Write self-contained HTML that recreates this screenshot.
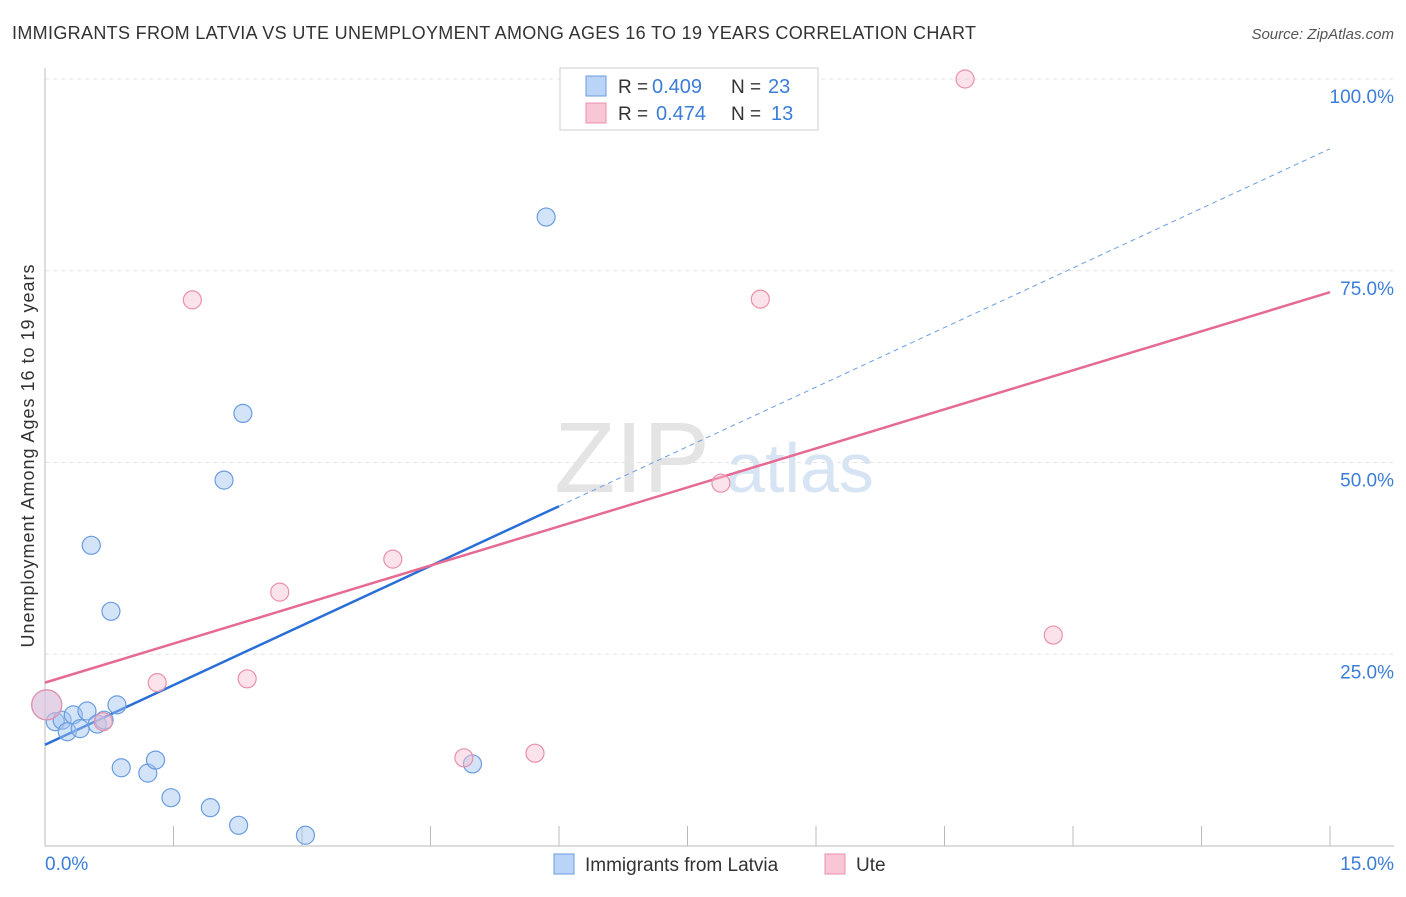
<!DOCTYPE html>
<html><head><meta charset="utf-8"><style>
body{margin:0;background:#fff;font-family:"Liberation Sans",sans-serif}
svg text{font-family:"Liberation Sans",sans-serif}
</style></head><body>
<svg width="1406" height="892">
<text x="12" y="39" font-size="18" fill="#333" textLength="964" lengthAdjust="spacing">IMMIGRANTS FROM LATVIA VS UTE UNEMPLOYMENT AMONG AGES 16 TO 19 YEARS CORRELATION CHART</text>
<text x="1394" y="39" font-size="15" fill="#555" font-style="italic" text-anchor="end">Source: ZipAtlas.com</text>
<text x="632" y="492" font-size="100" fill="#e4e4e4" text-anchor="middle" font-family="Liberation Serif">ZIP</text>
<text x="800" y="492" font-size="70" fill="#d7e4f3" text-anchor="middle">atlas</text>
<g id="grid"></g>
<line x1="45" y1="68" x2="45" y2="846" stroke="#bbb"/>
<line x1="45" y1="846" x2="1394" y2="846" stroke="#bbb"/>
<text x="45" y="870" font-size="19" fill="#3b7dd8">0.0%</text>
<text x="1394" y="870" font-size="19" fill="#3b7dd8" text-anchor="end">15.0%</text>
<text transform="translate(34,456) rotate(-90)" font-size="18" fill="#333" text-anchor="middle" textLength="383" lengthAdjust="spacing">Unemployment Among Ages 16 to 19 years</text>
<g id="lines"></g>
<g id="pts"></g>
<g>
<rect x="560" y="68" width="258" height="62" fill="#fff" stroke="#ccc"/>
<rect x="586" y="76" width="20" height="20" fill="#b9d4f6" stroke="#6a9de0"/>
<rect x="586" y="103" width="20" height="20" fill="#f9c6d5" stroke="#e890aa"/>
<text x="618" y="93" font-size="19" fill="#333">R =</text>
<text x="652" y="93" font-size="20" fill="#3b7dd8">0.409</text>
<text x="731" y="93" font-size="19" fill="#333">N =</text>
<text x="768" y="93" font-size="20" fill="#3b7dd8">23</text>
<text x="618" y="120" font-size="19" fill="#333">R =</text>
<text x="656" y="120" font-size="20" fill="#3b7dd8">0.474</text>
<text x="731" y="120" font-size="19" fill="#333">N =</text>
<text x="771" y="120" font-size="20" fill="#3b7dd8">13</text>
</g>
<g>
<rect x="554" y="854" width="20" height="20" fill="#b9d4f6" stroke="#6a9de0"/>
<text x="585" y="871" font-size="19" fill="#333">Immigrants from Latvia</text>
<rect x="825" y="854" width="20" height="20" fill="#f9c6d5" stroke="#e890aa"/>
<text x="856" y="871" font-size="19" fill="#333">Ute</text>
</g>
</svg>
<script>
const yTicks=[25,50,75,100];
const xTicks=[1.5,3,4.5,6,7.5,9,10.5,12,13.5,15];
const blueX=[0.02,0.12,0.2,0.26,0.33,0.41,0.49,0.61,0.69,0.84,0.54,0.77,0.89,1.2,1.29,1.47,1.93,2.26,3.04,2.09,2.31,4.99,5.85];
const blueY=[18.4,16.2,16.4,14.9,17.1,15.3,17.6,15.9,16.4,18.4,39.2,30.6,10.2,9.5,11.2,6.3,5.0,2.7,1.4,47.7,56.4,10.7,82.0];
const pinkX=[0.02,0.68,1.31,1.72,2.36,2.74,4.06,4.89,5.72,7.89,8.35,10.74,11.77];
const pinkY=[18.4,16.2,21.3,71.2,21.8,33.1,37.4,11.5,12.1,47.3,71.3,100,27.5];
const blueFit=[13.2,44.3,90.9];
const pinkFit=[21.3,72.2];
const X=v=>45+v/15*1285, Y=v=>846-v/100*767;
const ns='http://www.w3.org/2000/svg';
function mk(t,a,p){const e=document.createElementNS(ns,t);for(const k in a)e.setAttribute(k,a[k]);document.getElementById(p).appendChild(e);return e;}
yTicks.forEach(v=>{
const l=mk('line',{x1:45,x2:1394,y1:Y(v),y2:Y(v),stroke:'#e4e4e4','stroke-dasharray':'4,4'},'grid');


const t=mk('text',{x:1394,y:Y(v)+24,'font-size':19,fill:'#3b7dd8','text-anchor':'end'},'grid');t.textContent=v.toFixed(1)+'%';


});
xTicks.forEach(v=>{
const l=mk('line',{x1:X(v),x2:X(v),y1:826,y2:846,stroke:'#bbb'},'grid');


});
let a=mk('line',{x1:X(0),y1:Y(blueFit[0]),x2:X(6),y2:Y(blueFit[1]),stroke:'#2a6fd6','stroke-width':2.5},'lines');


a=mk('line',{x1:X(6),y1:Y(blueFit[1]),x2:X(15),y2:Y(blueFit[2]),stroke:'#6a9de0','stroke-width':1,'stroke-dasharray':'5,4'},'lines');


a=mk('line',{x1:X(0),y1:Y(pinkFit[0]),x2:X(15),y2:Y(pinkFit[1]),stroke:'#e56b93','stroke-width':2.5},'lines');


blueX.forEach((x,i)=>{
const c=mk('circle',{cx:X(x),cy:Y(blueY[i]),r:i==0?15:9,fill:'rgba(160,196,240,0.45)',stroke:'#6a9de0','stroke-width':1.2},'pts');


});
pinkX.forEach((x,i)=>{
const c=mk('circle',{cx:X(x),cy:Y(pinkY[i]),r:i==0?15:9,fill:'rgba(248,190,208,0.45)',stroke:'#e890aa','stroke-width':1.2},'pts');


});
</script>
</body></html>
